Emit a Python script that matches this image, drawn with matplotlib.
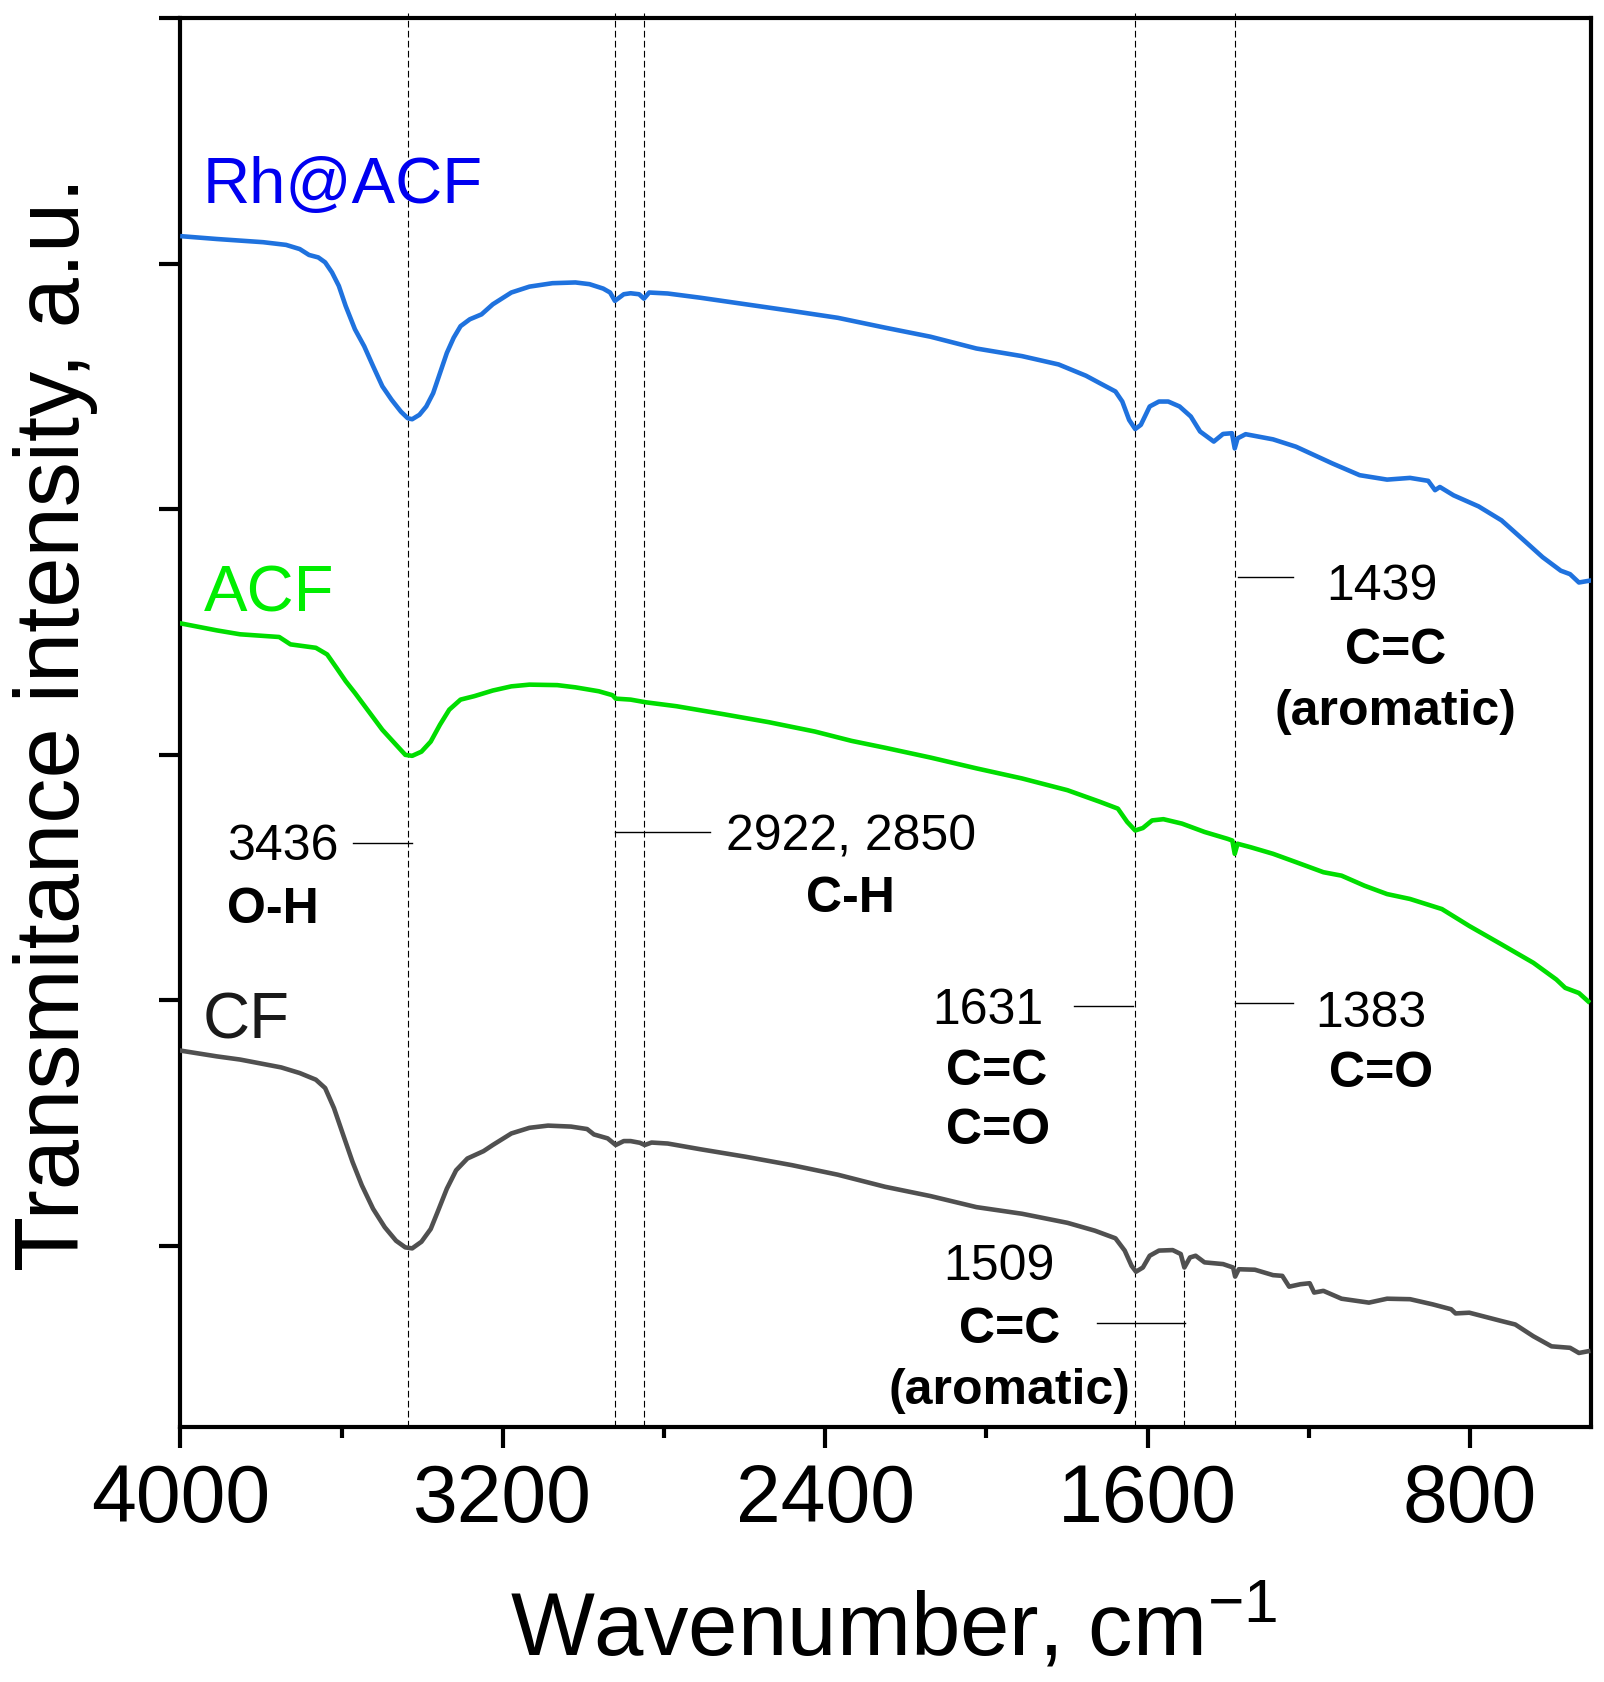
import numpy as np
import matplotlib
matplotlib.use('Agg')
import matplotlib.pyplot as plt

plt.rcParams['font.family'] = ['Liberation Sans', 'DejaVu Sans']
plt.rcParams['mathtext.fontset'] = 'custom'
plt.rcParams['mathtext.rm'] = 'Liberation Sans'
plt.rcParams['mathtext.default'] = 'regular'

# spectra: (wavenumber cm-1, transmittance a.u.)
rh_acf = [(3995, 4.111), (3910, 4.100), (3795, 4.087), (3738, 4.076), (3704, 4.059),
          (3681, 4.035), (3658, 4.025), (3641, 4.005), (3624, 3.964), (3607, 3.909),
          (3590, 3.827), (3567, 3.732), (3544, 3.663), (3522, 3.582), (3499, 3.500),
          (3476, 3.445), (3453, 3.397), (3436, 3.370), (3425, 3.366), (3407, 3.384),
          (3390, 3.418), (3373, 3.472), (3356, 3.554), (3339, 3.636), (3322, 3.698),
          (3305, 3.745), (3282, 3.773), (3253, 3.793), (3225, 3.834), (3179, 3.882),
          (3134, 3.906), (3077, 3.920), (3020, 3.923), (2985, 3.916), (2951, 3.898),
          (2934, 3.882), (2922, 3.848), (2900, 3.875), (2883, 3.879), (2862, 3.875),
          (2850, 3.857), (2837, 3.882), (2791, 3.878), (2711, 3.861), (2597, 3.834),
          (2483, 3.807), (2369, 3.779), (2252, 3.739), (2139, 3.702), (2025, 3.654),
          (1912, 3.623), (1821, 3.589), (1753, 3.543), (1719, 3.513), (1680, 3.479),
          (1663, 3.438), (1646, 3.363), (1631, 3.326), (1617, 3.343), (1595, 3.418),
          (1572, 3.438), (1549, 3.438), (1521, 3.418), (1493, 3.377), (1470, 3.316),
          (1436, 3.275), (1413, 3.306), (1391, 3.309), (1384, 3.247), (1377, 3.288),
          (1357, 3.305), (1289, 3.284), (1232, 3.254), (1187, 3.220), (1142, 3.186),
          (1074, 3.138), (1006, 3.120), (949, 3.127), (904, 3.115), (887, 3.077),
          (875, 3.090), (841, 3.056), (779, 3.011), (722, 2.954), (666, 2.872),
          (620, 2.804), (575, 2.749), (552, 2.735), (530, 2.701), (505, 2.708)]

acf = [(3998, 2.534), (3910, 2.506), (3852, 2.490), (3755, 2.479), (3727, 2.449),
       (3664, 2.435), (3636, 2.408), (3613, 2.354), (3590, 2.299), (3567, 2.251),
       (3533, 2.176), (3499, 2.101), (3465, 2.040), (3442, 1.999), (3425, 1.995),
       (3402, 2.012), (3379, 2.053), (3356, 2.122), (3333, 2.183), (3305, 2.224),
       (3271, 2.238), (3225, 2.261), (3179, 2.278), (3134, 2.285), (3065, 2.283),
       (3020, 2.274), (2962, 2.258), (2928, 2.242), (2920, 2.228), (2883, 2.224),
       (2845, 2.213), (2769, 2.197), (2654, 2.165), (2540, 2.132), (2426, 2.094),
       (2335, 2.056), (2252, 2.028), (2139, 1.988), (2025, 1.944), (1912, 1.903),
       (1799, 1.855), (1719, 1.808), (1674, 1.780), (1651, 1.726), (1631, 1.691),
       (1612, 1.701), (1589, 1.732), (1561, 1.737), (1515, 1.719), (1459, 1.685),
       (1402, 1.657), (1390, 1.650), (1384, 1.596), (1377, 1.637), (1345, 1.623),
       (1289, 1.596), (1232, 1.562), (1164, 1.521), (1119, 1.507), (1062, 1.466),
       (1006, 1.432), (949, 1.412), (870, 1.371), (802, 1.302), (722, 1.227),
       (643, 1.152), (586, 1.084), (564, 1.050), (530, 1.029), (507, 0.995)]

cf = [(3998, 0.794), (3910, 0.771), (3852, 0.758), (3750, 0.726), (3704, 0.703),
      (3664, 0.676), (3641, 0.642), (3619, 0.560), (3596, 0.450), (3573, 0.341),
      (3550, 0.246), (3522, 0.150), (3493, 0.075), (3465, 0.020), (3442, -0.007),
      (3425, -0.011), (3402, 0.016), (3379, 0.068), (3362, 0.137), (3339, 0.232),
      (3316, 0.307), (3288, 0.355), (3248, 0.385), (3225, 0.410), (3179, 0.457),
      (3134, 0.480), (3088, 0.489), (3031, 0.485), (2991, 0.475), (2974, 0.453),
      (2940, 0.437), (2920, 0.410), (2900, 0.426), (2883, 0.426), (2860, 0.419),
      (2848, 0.410), (2831, 0.420), (2791, 0.416), (2711, 0.393), (2597, 0.362),
      (2483, 0.328), (2369, 0.289), (2252, 0.240), (2139, 0.202), (2025, 0.157),
      (1912, 0.130), (1799, 0.093), (1731, 0.061), (1680, 0.030), (1657, -0.020),
      (1640, -0.082), (1629, -0.106), (1612, -0.089), (1595, -0.041), (1572, -0.020),
      (1538, -0.018), (1518, -0.034), (1509, -0.089), (1495, -0.048), (1481, -0.041),
      (1459, -0.068), (1413, -0.075), (1388, -0.089), (1383, -0.126), (1374, -0.096),
      (1334, -0.098), (1289, -0.120), (1266, -0.123), (1249, -0.167), (1221, -0.157),
      (1198, -0.153), (1187, -0.191), (1164, -0.184), (1119, -0.216), (1051, -0.232),
      (1006, -0.216), (949, -0.218), (893, -0.239), (847, -0.259), (836, -0.276),
      (802, -0.273), (722, -0.307), (688, -0.321), (643, -0.369), (598, -0.410),
      (552, -0.416), (530, -0.437), (507, -0.430)]

series_names = ['Rh@ACF', 'ACF', 'CF']
series_data = [rh_acf, acf, cf]
line_colors = ['#1F72DE', '#00DD00', '#505050']
name_colors = ['#0000F0', '#00EE00', '#1A1A1A']
name_pos = [(3944, 4.251), (3943, 2.586), (3944, 0.848)]

# dashed marker lines (wavenumber, top of line)
peak_lines = [(3436, 5.02), (2922, 5.02), (2850, 5.02), (1631, 5.02), (1509, -0.09), (1383, 5.02)]

# leader lines: (from wn, to wn, level)
leaders = [(3573, 3425, 1.638), (2922, 2685, 1.683), (1782, 1637, 0.977),
           (1384, 1240, 0.988), (1376, 1240, 2.722), (1727, 1507, -0.313)]

# annotation texts: (text, wn, baseline, bold, align)
notes = [('3436', 3885, 1.574, False, 'left'), ('O-H', 3885, 1.319, True, 'left'),
         ('2922, 2850', 2337, 1.615, False, 'center'), ('C-H', 2337, 1.364, True, 'center'),
         ('1439', 1018, 2.633, False, 'center'), ('C=C', 985, 2.372, True, 'center'),
         ('(aromatic)', 985, 2.124, True, 'center'),
         ('1631', 1997, 0.908, False, 'center'), ('C=C', 1976, 0.659, True, 'center'),
         ('C=O', 1971, 0.419, True, 'center'),
         ('1383', 1045, 0.895, False, 'center'), ('C=O', 1021, 0.650, True, 'center'),
         ('1509', 1968, -0.136, False, 'center'), ('C=C', 1943, -0.393, True, 'center'),
         ('(aromatic)', 1943, -0.641, True, 'center')]

x_major = [4000, 3200, 2400, 1600, 800]
x_minor = [3600, 2800, 2000, 1200]
y_ticks = [0, 1, 2, 3, 4, 5]
y_lim = (-0.74, 5.0)

fig = plt.figure(figsize=(16.04, 16.83), dpi=100)
ax = fig.add_axes([0.1125, 0.1513, 0.8794, 0.8374])

for wn, top in peak_lines:
    ax.vlines(wn, y_lim[0], top, colors='k', linestyles=(0, (6, 3)),
              linewidth=0.8, clip_on=False, zorder=1)

for x0, x1, lvl in leaders:
    ax.plot([x0, x1], [lvl, lvl], color='k', linewidth=1.0, zorder=1)

for name, pts, lc, nc, pos in zip(series_names, series_data, line_colors, name_colors, name_pos):
    pts = np.array(pts)
    ax.plot(pts[:, 0], pts[:, 1], color=lc, linewidth=3.3, solid_joinstyle='round', zorder=3)
    ax.text(pos[0], pos[1], name, color=nc, fontsize=47, ha='left', va='baseline')

for txt, wn, base, bold, al in notes:
    ax.text(wn, base, txt, fontsize=36, fontweight='bold' if bold else 'normal',
            ha=al, va='baseline', color='k')

ax.set_xlim(4000, 500)
ax.set_ylim(*y_lim)
ax.set_xticks(x_major)
ax.set_xticks(x_minor, minor=True)
ax.set_yticks(y_ticks)
ax.tick_params(axis='both', which='major', direction='out', length=15, width=3,
               labelsize=58, pad=10)
ax.tick_params(axis='x', which='minor', direction='out', length=8, width=3)
ax.tick_params(axis='y', labelleft=False)
for s in ax.spines.values():
    s.set_linewidth(3)

fig.text(0.557, 0.0166, 'Wavenumber, cm$^{-1}$', fontsize=64, ha='center', va='baseline')
fig.text(0.0493, 0.5701, 'Transmitance intensity, a.u.', fontsize=65, rotation=90,
         rotation_mode='anchor', ha='center', va='baseline')

fig.savefig('out.png', dpi=100)
